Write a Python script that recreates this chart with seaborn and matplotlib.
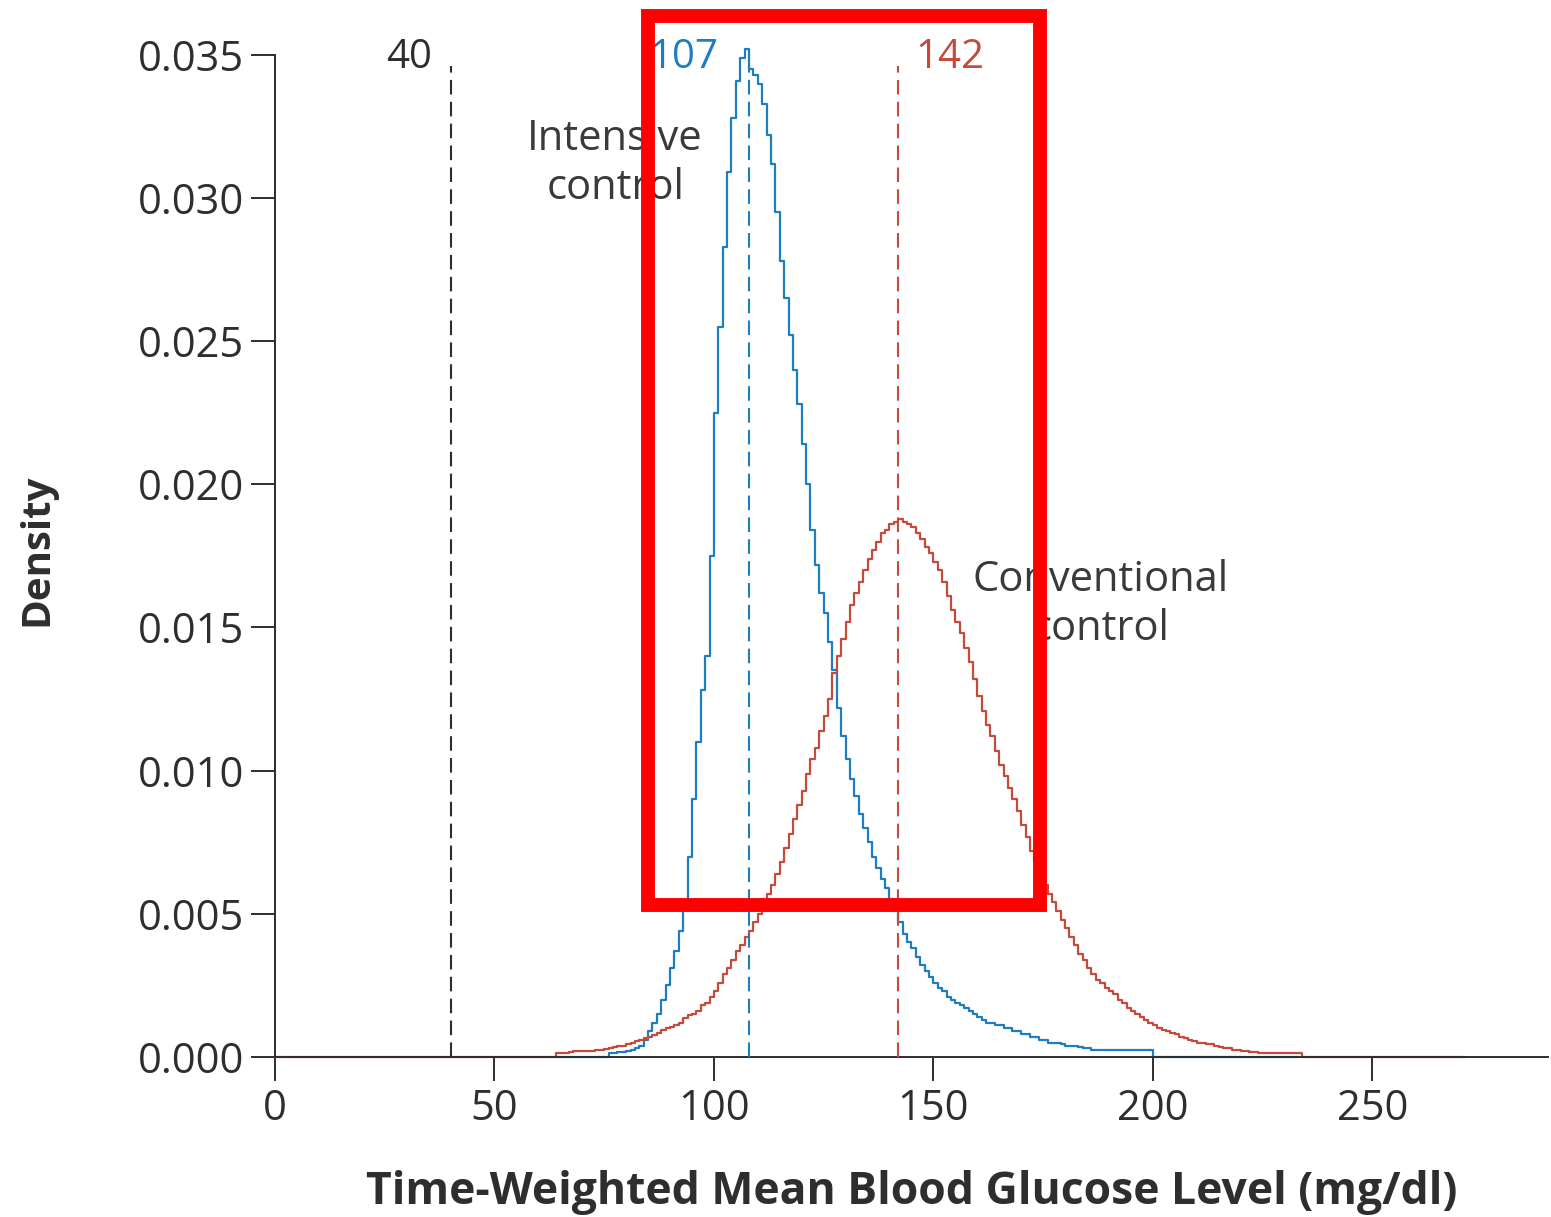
import numpy as np
import pandas as pd
import matplotlib
matplotlib.use("Agg")
import matplotlib.pyplot as plt
from matplotlib.patches import Rectangle
import seaborn as sns

# ---------- DATA ----------

BIN_WIDTH = 1  # mg/dl per step

group_names = ["Intensive control", "Conventional control"]

# intensive control: baseline from 64, bins start at 76, baseline after last bin up to 233
intensive_range = (64, 233)
intensive_start = 76
intensive_density = [
    0.00014, 0.00014, 0.00016, 0.00018, 0.00022, 0.00026, 0.00030, 0.00040, 0.00060, 0.00090,  # 76-85
    0.00120, 0.00150, 0.00200, 0.00250, 0.00310, 0.00370, 0.00440, 0.00530, 0.00700, 0.00900,  # 86-95
    0.01100, 0.01280, 0.01400, 0.01750, 0.02250, 0.02550, 0.02830, 0.03090, 0.03280, 0.03410,  # 96-105
    0.03490, 0.03520, 0.03450, 0.03430, 0.03400, 0.03330, 0.03220, 0.03120, 0.02950, 0.02780,  # 106-115
    0.02650, 0.02520, 0.02400, 0.02280, 0.02140, 0.02000, 0.01840, 0.01720, 0.01620, 0.01550,  # 116-125
    0.01450, 0.01350, 0.01220, 0.01120, 0.01040, 0.00970, 0.00910, 0.00850, 0.00800, 0.00750,  # 126-135
    0.00700, 0.00660, 0.00620, 0.00590, 0.00550, 0.00510, 0.00470, 0.00430, 0.00400, 0.00380,  # 136-145
    0.00350, 0.00320, 0.00300, 0.00280, 0.00260, 0.00240, 0.00230, 0.00210, 0.00200, 0.00190,  # 146-155
    0.00180, 0.00170, 0.00160, 0.00150, 0.00140, 0.00130, 0.00120, 0.00120, 0.00110, 0.00110,  # 156-165
    0.00100, 0.00100, 0.00090, 0.00090, 0.00080, 0.00080, 0.00070, 0.00070, 0.00060, 0.00060,  # 166-175
    0.00050, 0.00050, 0.00050, 0.00045, 0.00040, 0.00040, 0.00040, 0.00035, 0.00030, 0.00030,  # 176-185
    0.00025, 0.00025, 0.00025, 0.00025, 0.00025, 0.00025, 0.00025, 0.00025, 0.00025, 0.00025,  # 186-195
    0.00025, 0.00025, 0.00025, 0.00025,                                                          # 196-199
]

# conventional control: baseline from 0, bins start at 64, baseline after last bin up to 271
conventional_range = (0, 271)
conventional_start = 64
conventional_density = [
    0.00015, 0.00015, 0.00015, 0.00018, 0.00020, 0.00020,                                        # 64-69
    0.00020, 0.00020, 0.00022, 0.00024, 0.00025, 0.00028, 0.00030, 0.00035, 0.00040, 0.00040,  # 70-79
    0.00045, 0.00050, 0.00055, 0.00060, 0.00065, 0.00070, 0.00078, 0.00085, 0.00095, 0.00100,  # 80-89
    0.00105, 0.00110, 0.00120, 0.00135, 0.00145, 0.00150, 0.00160, 0.00180, 0.00190, 0.00210,  # 90-99
    0.00230, 0.00260, 0.00290, 0.00310, 0.00340, 0.00370, 0.00390, 0.00420, 0.00440, 0.00470,  # 100-109
    0.00500, 0.00540, 0.00570, 0.00600, 0.00640, 0.00680, 0.00730, 0.00780, 0.00830, 0.00880,  # 110-119
    0.00930, 0.00990, 0.01040, 0.01080, 0.01140, 0.01190, 0.01250, 0.01340, 0.01400, 0.01460,  # 120-129
    0.01520, 0.01580, 0.01620, 0.01660, 0.01700, 0.01740, 0.01770, 0.01800, 0.01830, 0.01840,  # 130-139
    0.01860, 0.01870, 0.01880, 0.01870, 0.01860, 0.01850, 0.01830, 0.01810, 0.01780, 0.01760,  # 140-149
    0.01730, 0.01700, 0.01660, 0.01610, 0.01560, 0.01520, 0.01480, 0.01430, 0.01380, 0.01320,  # 150-159
    0.01260, 0.01210, 0.01160, 0.01120, 0.01070, 0.01020, 0.00980, 0.00940, 0.00900, 0.00860,  # 160-169
    0.00810, 0.00770, 0.00720, 0.00680, 0.00640, 0.00600, 0.00570, 0.00540, 0.00510, 0.00480,  # 170-179
    0.00450, 0.00420, 0.00390, 0.00360, 0.00340, 0.00310, 0.00290, 0.00270, 0.00260, 0.00240,  # 180-189
    0.00230, 0.00220, 0.00200, 0.00190, 0.00170, 0.00160, 0.00150, 0.00140, 0.00130, 0.00120,  # 190-199
    0.00110, 0.00100, 0.00095, 0.00090, 0.00085, 0.00080, 0.00070, 0.00065, 0.00060, 0.00055,  # 200-209
    0.00050, 0.00050, 0.00045, 0.00045, 0.00040, 0.00035, 0.00030, 0.00030, 0.00025, 0.00025,  # 210-219
    0.00020, 0.00020, 0.00018, 0.00017, 0.00015, 0.00015, 0.00015, 0.00015, 0.00015, 0.00015,  # 220-229
    0.00015, 0.00015, 0.00015, 0.00015,                                                          # 230-233
]

ref_lines = [40, 108, 142]
ref_labels = ["40", "107", "142"]

x_ticks = [0, 50, 100, 150, 200, 250]
y_ticks = [0.000, 0.005, 0.010, 0.015, 0.020, 0.025, 0.030, 0.035]

# ---------- STYLE ----------

BLUE = "#1c7dc1"
RED = "#c44a3b"
DARK = "#2e2e2e"
FONT = ["Open Sans", "DejaVu Sans"]

sns.set_style("ticks")
plt.rcParams["font.family"] = FONT
plt.rcParams["text.color"] = DARK
plt.rcParams["axes.labelcolor"] = DARK


def step_frame(name, rng, start, dens):
    n = len(dens)
    edges = [rng[0]] + [start + BIN_WIDTH * i for i in range(n + 1)] + [rng[1]]
    vals = [0.0] + list(dens) + [0.0, 0.0]
    return pd.DataFrame({"glucose": edges, "density": vals, "group": name})


df = pd.concat([
    step_frame(group_names[0], intensive_range, intensive_start, intensive_density),
    step_frame(group_names[1], conventional_range, conventional_start, conventional_density),
], ignore_index=True)

# ---------- PLOT ----------

fig = plt.figure(figsize=(15.51, 12.17), dpi=100)
ax = fig.add_axes([0.1773, 0.1315, 0.8207, 0.8587])

sns.lineplot(
    data=df, x="glucose", y="density", hue="group",
    hue_order=group_names, palette=[BLUE, RED],
    drawstyle="steps-post", estimator=None, sort=False,
    linewidth=1.6, legend=False, ax=ax,
)
for ln in ax.lines:
    ln.set_clip_on(False)

ax.vlines(ref_lines, 0, 0.0346, colors=[DARK, BLUE, RED],
          linestyles=(0, (7, 3.5)), linewidth=1.5, zorder=3)

ax.text(35.8, 0.0349, ref_labels[0], color=DARK, fontsize=29, ha="right", va="center")
ax.text(85.3, 0.0349, ref_labels[1], color=BLUE, fontsize=29, ha="left", va="center")
ax.text(145.8, 0.0349, ref_labels[2], color=RED, fontsize=29, ha="left", va="center")

ax.text(77.5, 0.0312, "Intensive\ncontrol", color="#3a3a3a", fontsize=30,
        ha="center", va="center", linespacing=1.2)
ax.text(188.1, 0.0158, "Conventional\ncontrol", color="#3a3a3a", fontsize=30,
        ha="center", va="center", linespacing=1.2)

# highlight box
ax.add_patch(Rectangle((85.0, 0.00531), 174.4 - 85.0, 0.03636 - 0.00531,
                       fill=False, edgecolor="#ff0000", linewidth=10,
                       joinstyle="miter", clip_on=False, zorder=10))

ax.set_xlim(0, 290)
ax.set_ylim(0, 0.0365)
ax.set_xticks(x_ticks)
ax.set_yticks(y_ticks)
ax.set_yticklabels([f"{v:.3f}" for v in y_ticks])

sns.despine(ax=ax)
ax.spines["left"].set_bounds(0, 0.035)
for side in ["left", "bottom"]:
    ax.spines[side].set_linewidth(1.4)
    ax.spines[side].set_color(DARK)
ax.tick_params(direction="out", length=17, width=1.4, color=DARK,
               labelsize=30, labelcolor=DARK, pad=5)

ax.set_xlabel("Time-Weighted Mean Blood Glucose Level (mg/dl)",
              fontsize=32, fontweight="bold")
ax.set_ylabel("Density", fontsize=29, fontweight="bold")
ax.xaxis.set_label_coords(0.5, -0.108)
ax.yaxis.set_label_coords(-0.172, 0.485)

fig.savefig("out.png", dpi=100)
